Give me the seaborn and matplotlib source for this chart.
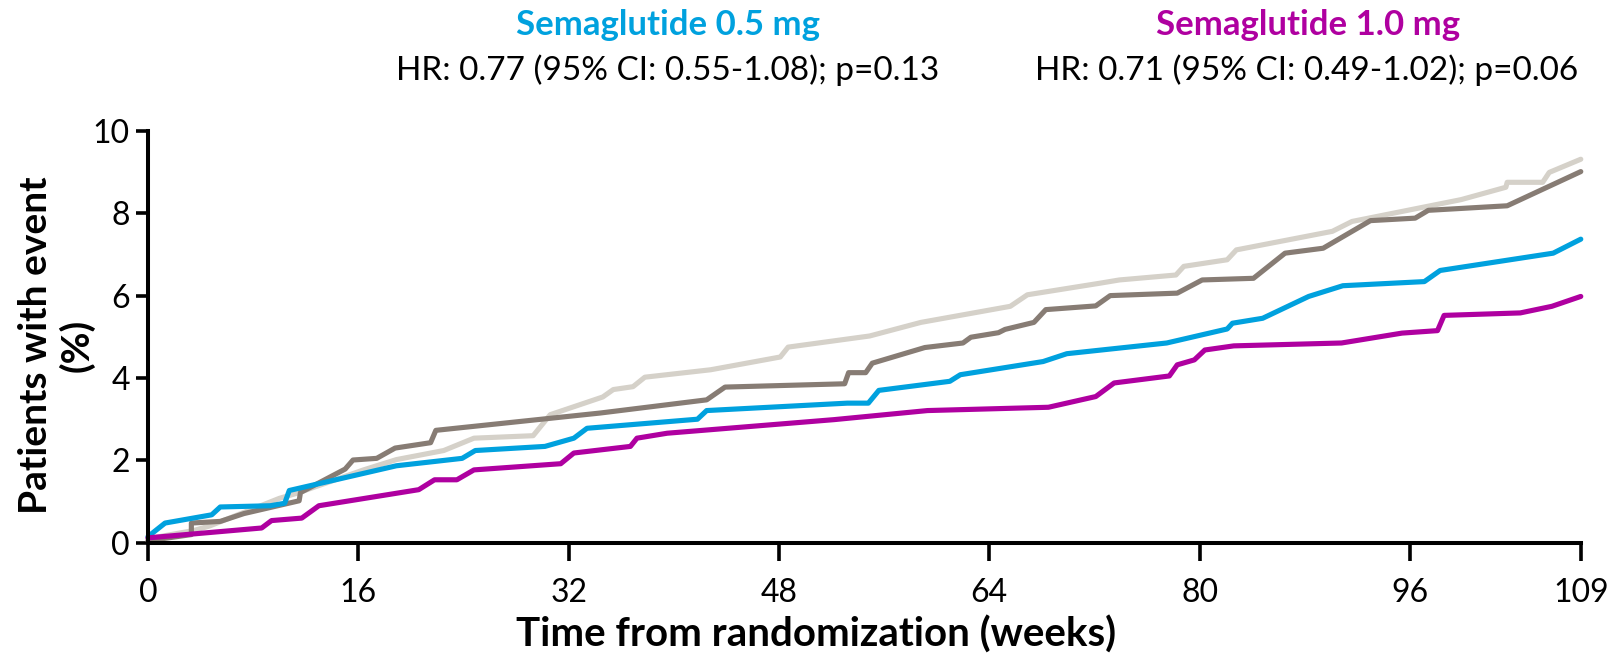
#!/usr/bin/env python
"""Cumulative incidence curves, semaglutide vs placebo."""

import matplotlib
matplotlib.use("Agg")
import matplotlib.pyplot as plt
import pandas as pd
import seaborn as sns

# placebo 0.5 mg (light grey)
plc05_weeks = [0, 3.5, 4.7, 10.0, 11.3, 16.4, 18.9, 22.5, 24.8, 29.3, 30.6, 34.6,
               35.4, 36.9, 37.8, 42.8, 48.1, 48.7, 54.9, 58.8, 65.6, 66.9, 72.4,
               73.9, 78.2, 78.8, 82.1, 82.8, 90.1, 91.6, 99.9, 103.3, 103.4, 106.1,
               106.6, 109]
plc05_pct = [0.1, 0.3, 0.41, 1.08, 1.2, 1.77, 2.02, 2.24, 2.54, 2.6, 3.11, 3.54,
             3.72, 3.79, 4.02, 4.2, 4.51, 4.75, 5.02, 5.35, 5.74, 6.02, 6.30,
             6.38, 6.5, 6.71, 6.87, 7.11, 7.56, 7.8, 8.33, 8.63, 8.75, 8.75,
             8.99, 9.31]

# placebo 1.0 mg (dark taupe)
plc10_weeks = [0, 3.3, 3.3, 5.5, 7.3, 11.5, 11.6, 15.0, 15.6, 17.4, 18.8, 21.5,
               21.9, 34.4, 42.5, 43.9, 53.0, 53.3, 54.6, 55.1, 59.1, 62.0, 62.6,
               64.7, 65.2, 67.4, 68.3, 72.1, 73.2, 78.3, 80.2, 84.1, 86.5, 89.4,
               93.0, 96.4, 97.4, 103.4, 109]
plc10_pct = [0.05, 0.2, 0.48, 0.52, 0.71, 1.02, 1.22, 1.79, 2.01, 2.05, 2.30, 2.43,
             2.73, 3.15, 3.47, 3.78, 3.86, 4.13, 4.13, 4.36, 4.74, 4.85, 4.99,
             5.10, 5.18, 5.35, 5.66, 5.75, 6.00, 6.06, 6.38, 6.42, 7.03, 7.15,
             7.82, 7.88, 8.07, 8.18, 9.01]

# semaglutide 0.5 mg
sema05_weeks = [0, 1.3, 4.85, 5.5, 9.3, 10.4, 10.75, 18.9, 23.9, 24.9, 30.2, 32.4,
                33.4, 41.8, 42.5, 53.2, 54.8, 55.6, 61.0, 61.8, 68.1, 69.9, 77.5,
                82.1, 82.5, 84.8, 88.3, 90.9, 97.1, 98.3, 106.9, 109]
sema05_pct = [0.15, 0.48, 0.68, 0.87, 0.9, 0.96, 1.27, 1.87, 2.05, 2.24, 2.34, 2.54,
              2.78, 3.0, 3.21, 3.39, 3.39, 3.70, 3.92, 4.08, 4.40, 4.59, 4.85,
              5.19, 5.33, 5.45, 5.98, 6.24, 6.34, 6.61, 7.03, 7.37]

# semaglutide 1.0 mg
sema10_weeks = [0, 8.65, 9.4, 11.7, 13.0, 20.6, 21.8, 23.5, 24.8, 31.4, 32.4, 36.7,
                37.2, 39.5, 52.2, 59.3, 68.5, 72.1, 73.5, 77.7, 78.3, 79.6, 80.4,
                82.6, 90.8, 95.4, 98.1, 98.6, 104.4, 106.8, 109]
sema10_pct = [0.12, 0.36, 0.54, 0.60, 0.90, 1.29, 1.53, 1.53, 1.77, 1.92, 2.18, 2.34,
              2.54, 2.66, 2.99, 3.21, 3.29, 3.55, 3.88, 4.05, 4.32, 4.44, 4.68,
              4.78, 4.85, 5.09, 5.15, 5.52, 5.58, 5.74, 5.98]

x_ticks = [0, 16, 32, 48, 64, 80, 96, 109]
y_ticks = [0, 2, 4, 6, 8, 10]

colors = {
    "Placebo 0.5 mg": "#D5D1C9",
    "Placebo 1.0 mg": "#877C74",
    "Semaglutide 0.5 mg": "#00A1DE",
    "Semaglutide 1.0 mg": "#AF00A0",
}


def build_frame():
    """Long-form frame, one row per curve vertex."""
    parts = []
    for name, w, p in [("Placebo 0.5 mg", plc05_weeks, plc05_pct),
                       ("Placebo 1.0 mg", plc10_weeks, plc10_pct),
                       ("Semaglutide 0.5 mg", sema05_weeks, sema05_pct),
                       ("Semaglutide 1.0 mg", sema10_weeks, sema10_pct)]:
        parts.append(pd.DataFrame({"week": w, "pct": p, "arm": name}))
    return pd.concat(parts, ignore_index=True)


def main():
    sns.set_style("white")
    plt.rcParams["font.family"] = ["Lato", "DejaVu Sans"]
    plt.rcParams.update({"text.color": "black", "axes.labelcolor": "black",
                         "xtick.color": "black", "ytick.color": "black"})

    df = build_frame()

    fig = plt.figure(figsize=(16.19, 6.54), dpi=100)
    ax = fig.add_axes([0.0914, 0.170, 0.885, 0.630])

    sns.lineplot(data=df, x="week", y="pct", hue="arm", palette=colors,
                 hue_order=list(colors), sort=False, estimator=None,
                 linewidth=3.7, legend=False, ax=ax, clip_on=False)

    ax.set_xlim(0, 109)
    ax.set_ylim(0, 10)
    ax.set_xticks(x_ticks)
    ax.set_yticks(y_ticks)
    ax.tick_params(axis="both", direction="out", width=2.6, labelsize=23,
                   color="black", labelcolor="black", left=True, bottom=True)
    ax.tick_params(axis="x", length=13, pad=12)
    ax.tick_params(axis="y", length=9, pad=4)
    sns.despine(ax=ax)
    for side in ["left", "bottom"]:
        ax.spines[side].set_linewidth(2.9)
        ax.spines[side].set_color("black")

    ax.set_xlabel("Time from randomization (weeks)", fontsize=29,
                  fontweight="bold", color="black")
    ax.xaxis.label.set_va("baseline")
    ax.xaxis.set_label_coords(0.466, -0.252)

    ax.set_ylabel("Patients with event\n(%)", fontsize=28, fontweight="bold",
                  linespacing=1.2, color="black")
    ax.yaxis.label.set_va("center")
    ax.yaxis.set_label_coords(-0.064, 0.48)

    fig.text(0.4126, 0.962, "Semaglutide 0.5 mg", color=colors["Semaglutide 0.5 mg"],
             fontsize=25, fontweight="bold", ha="center", va="center")
    fig.text(0.4126, 0.893, "HR: 0.77 (95% CI: 0.55-1.08); p=0.13",
             fontsize=24, ha="center", va="center", color="black")
    fig.text(0.808, 0.962, "Semaglutide 1.0 mg", color=colors["Semaglutide 1.0 mg"],
             fontsize=25, fontweight="bold", ha="center", va="center")
    fig.text(0.807, 0.893, "HR: 0.71 (95% CI: 0.49-1.02); p=0.06",
             fontsize=24, ha="center", va="center", color="black")

    fig.savefig("out.png", dpi=100)
    plt.close(fig)


if __name__ == "__main__":
    main()
